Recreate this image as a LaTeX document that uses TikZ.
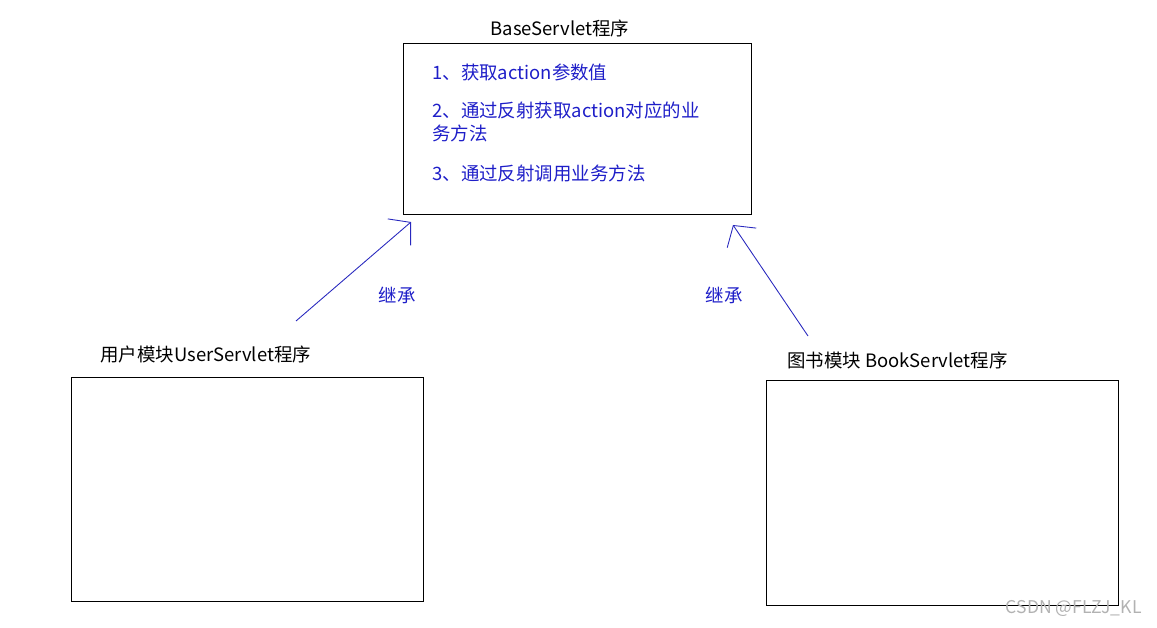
\documentclass[tikz,border=0pt]{standalone}
\usepackage{fontspec}
\setmainfont{Noto Sans CJK SC}
\usetikzlibrary{arrows.meta}
\definecolor{penblue}{RGB}{40,40,190}
\definecolor{inkblue}{RGB}{30,30,200}
\tikzset{
  box/.style={draw, line width=0.6pt, anchor=north west, inner sep=0pt},
  title/.style={font=\fontsize{10.5}{12}\selectfont, inner sep=0pt},
  item/.style={font=\fontsize{10.5}{13}\selectfont, text=inkblue, anchor=west, inner sep=0pt, align=left},
  inherit/.style={penblue, line width=0.5pt, -{Straight Barb[length=0.3cm, width=0.7cm]}}
}
\begin{document}
\begin{tikzpicture}[x=0.02cm, y=-0.02cm]
\useasboundingbox (0,0) rectangle (1157,628);
% parent class
\node[box, minimum width=6.96cm, minimum height=3.42cm] (base) at (403,43) {};
\node[title] (basetitle) at (560,28) {BaseServlet程序};
\node[item] (step1) at (432,72) {1、获取action参数值};
\node[item] (step2) at (432,122) {2、通过反射获取action对应的业\\务方法};
\node[item] (step3) at (432,173) {3、通过反射调用业务方法};
% sub classes
\node[box, minimum width=7.04cm, minimum height=4.48cm] (user) at (71,377) {};
\node[title, anchor=west] (usertitle) at (100,354) {用户模块UserServlet程序};
\node[box, minimum width=7.04cm, minimum height=4.5cm] (book) at (766,380) {};
\node[title, anchor=west] (booktitle) at (787,360) {图书模块 BookServlet程序};
% inheritance arrows
\coordinate (utail) at (296,321);
\coordinate (utip) at (411,222);
\coordinate (btail) at (808,336);
\coordinate (btip) at (733,225);
\draw[inherit] (utail) -- (utip);
\draw[inherit] (btail) -- (btip);
\node[item, anchor=center] (ulabel) at (397,295) {继承};
\node[item, anchor=center] (blabel) at (724,295) {继承};
\node[font=\fontsize{10}{12}\selectfont, text=gray!60, anchor=east, inner sep=0pt] (mark) at (1142,608) {CSDN @FLZJ\_KL};
\end{tikzpicture}
\end{document}
